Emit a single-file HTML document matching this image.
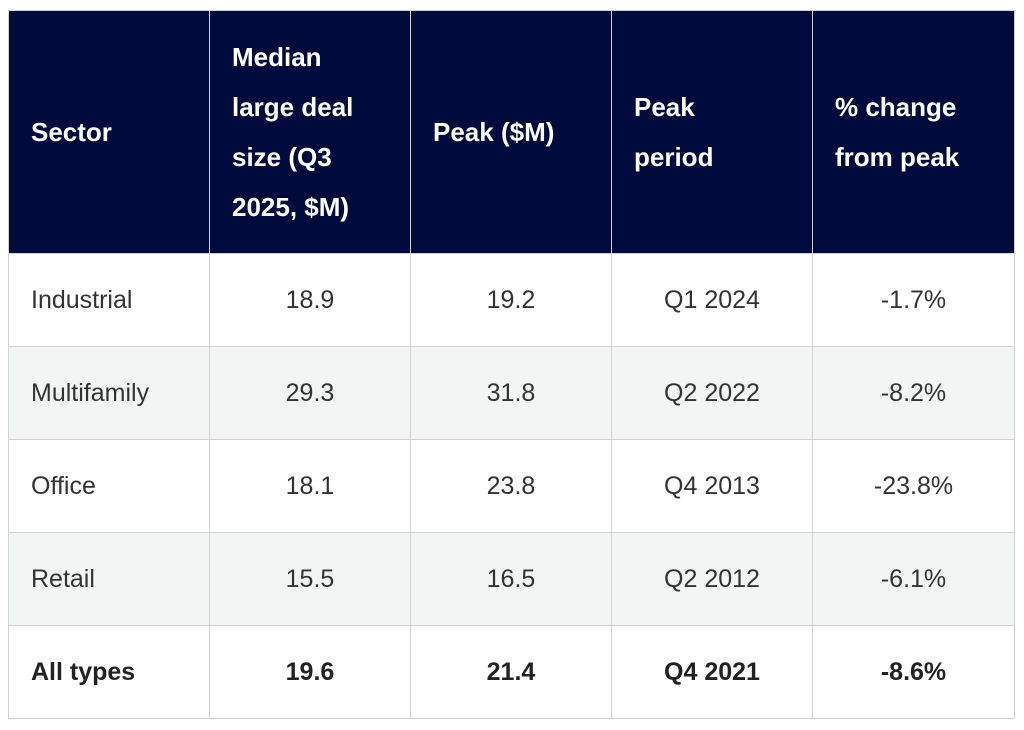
<!DOCTYPE html>
<html><head><style>
body{margin:0;background:#fff;width:1024px;height:730px;overflow:hidden;font-family:"Liberation Sans",sans-serif;}
table{position:absolute;left:8px;top:10px;border-collapse:collapse;table-layout:fixed;}
td,th{border:1.5px solid #cfd3d6;padding:0 0 0 22px;font-size:25px;color:#333;}
th{background:#000a3c;color:#fff;text-align:left;font-weight:bold;line-height:50px;height:242px;border-color:#cfd3d6;font-size:26px;}
td{height:92px;}
td.c{text-align:center;padding:0;}
tr.alt td{background:#f3f5f4;}
tr.b td{font-weight:bold;color:#222;}
</style></head><body>
<table>
<colgroup><col style="width:201px"><col style="width:201px"><col style="width:201px"><col style="width:201px"><col style="width:202px"></colgroup>
<tr><th>Sector</th><th>Median<br>large deal<br>size (Q3<br>2025, $M)</th><th>Peak ($M)</th><th>Peak<br>period</th><th>% change<br>from peak</th></tr>
<tr><td>Industrial</td><td class="c">18.9</td><td class="c">19.2</td><td class="c">Q1 2024</td><td class="c">-1.7%</td></tr>
<tr class="alt"><td>Multifamily</td><td class="c">29.3</td><td class="c">31.8</td><td class="c">Q2 2022</td><td class="c">-8.2%</td></tr>
<tr><td>Office</td><td class="c">18.1</td><td class="c">23.8</td><td class="c">Q4 2013</td><td class="c">-23.8%</td></tr>
<tr class="alt"><td>Retail</td><td class="c">15.5</td><td class="c">16.5</td><td class="c">Q2 2012</td><td class="c">-6.1%</td></tr>
<tr class="b"><td>All types</td><td class="c">19.6</td><td class="c">21.4</td><td class="c">Q4 2021</td><td class="c">-8.6%</td></tr>
</table>
</body></html>
